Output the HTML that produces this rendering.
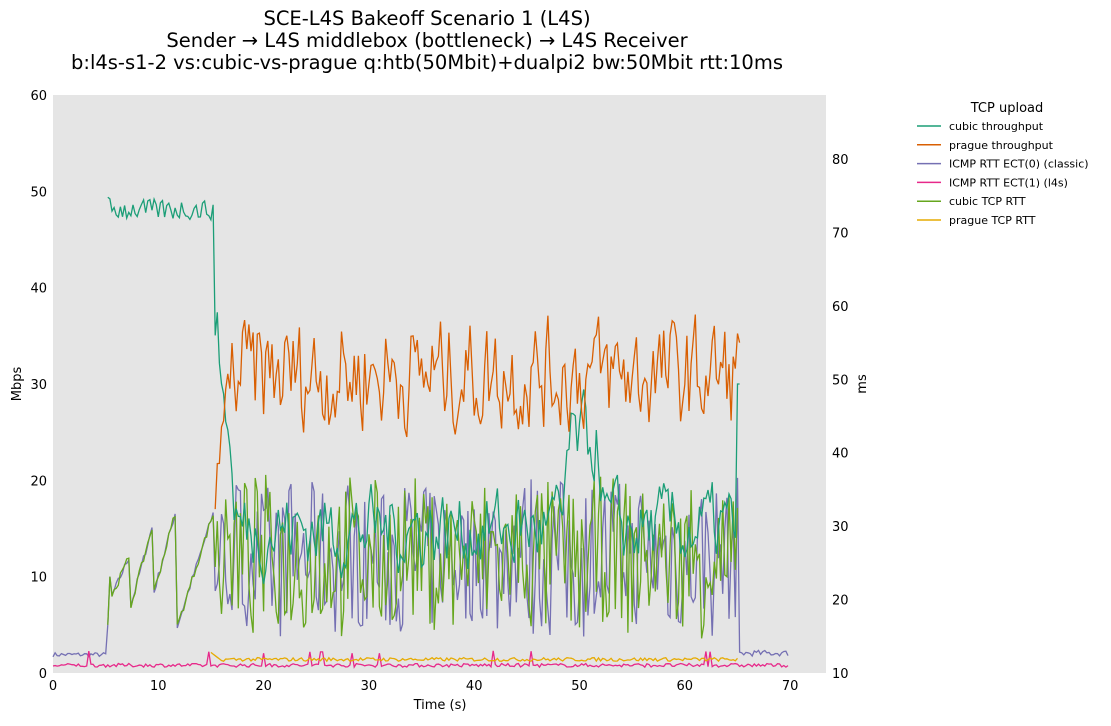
<!DOCTYPE html>
<html><head><meta charset="utf-8"><style>
body{margin:0;background:#fff;font-family:"Liberation Sans","DejaVu Sans",sans-serif;}
svg text{font-family:"DejaVu Sans","Liberation Sans",sans-serif;}
</style></head><body>
<svg id="s" width="1111" height="721" xmlns="http://www.w3.org/2000/svg">
<rect x="53" y="95" width="773" height="578" fill="#e5e5e5"/>
<g font-size="19.5" text-anchor="middle" fill="#000">
<text x="427" y="25">SCE-L4S Bakeoff Scenario 1 (L4S)</text>
<text x="427" y="47">Sender → L4S middlebox (bottleneck) → L4S Receiver</text>
<text x="427" y="69">b:l4s-s1-2 vs:cubic-vs-prague q:htb(50Mbit)+dualpi2 bw:50Mbit rtt:10ms</text>
</g>
<g id="ax" font-size="13" fill="#000"></g>
<g id="series" fill="none" stroke-width="1.3"></g>
<g font-size="13"><text x="1007" y="112" text-anchor="middle">TCP upload</text></g>
<g id="leg" font-size="11"></g>
</svg>
<script>
var ax=document.getElementById('ax'),h='';
for(var i=0;i<=6;i++){var y=673-i*96.33;h+='<text x="47" y="'+(y+5)+'" text-anchor="end">'+(i*10)+'</text>';}
for(var i=0;i<=7;i++){var x=53+i*105.3;h+='<text x="'+x+'" y="690" text-anchor="middle">'+(i*10)+'</text>';}
for(var i=1;i<=8;i++){var y=673-(i*10-10)*7.343;h+='<text x="832" y="'+(y+5)+'">'+(i*10)+'</text>';}
h+='<text x="440" y="709" text-anchor="middle">Time (s)</text>';
h+='<text transform="translate(21,384) rotate(-90)" text-anchor="middle">Mbps</text>';
h+='<text transform="translate(866,384) rotate(-90)" text-anchor="middle">ms</text>';
ax.innerHTML=h;
var seed=7;function r(){seed=(seed*16807)%2147483647;return seed/2147483647;}
function X(t){return 53+t*10.53}function M(v){return 673-v*9.633}function S(ms){return 673-(ms-10)*7.343}
function line(pts,c){return '<polyline stroke="'+c+'" points="'+pts.map(p=>p[0].toFixed(1)+','+p[1].toFixed(1)).join(' ')+'"/>';}
var segs=[[5.6,7.4,8,12.5],[7.4,9.5,7,15.5],[9.5,11.7,8,17],[11.7,15.2,4.5,16.5]];
function saw(t){if(t<5.6)return 5+(t-5.2)*25;for(var i=0;i<segs.length;i++){var s=segs[i];if(t>=s[0]&&t<s[1])return s[2]+(s[3]-s[2])*(t-s[0])/(s[1]-s[0])+(r()-0.5)*0.8;}return 15;}
function noisy(){var u=r();return 12+(u-0.5)*15+(r()-0.5)*3;}
var out='';
// ICMP ECT0 (in Mbps-equivalent pixel for middle)
var p=[];
for(var t=0;t<=70;t+=0.2){var y;
 if(t<5.2)y=S(12.2+r()*0.6);
 else if(t<15.2)y=M(saw(t));
 else if(t<65.2)y=M(noisy());
 else y=S(12.3+r()*0.8);
 p.push([X(t),y]);}
out+=line(p,'#7570b3');
// ECT1
p=[];for(var t=0;t<=70;t+=0.2){var v=10.8+r()*0.5;if(r()<0.02)v+=1.8;p.push([X(t),S(v)]);}
out+=line(p,'#e7298a');
// cubic tcp rtt
p=[];for(var t=5.2;t<=65.2;t+=0.2){var v=(t<15.2)?saw(t):noisy();p.push([X(t),M(v)]);}
out+=line(p,'#66a61e');
// prague rtt
p=[];for(var t=15;t<=65.2;t+=0.2){var v=11.6+r()*0.5;if(t<16)v=12.8-(t-15)*1.1;p.push([X(t),S(v)]);}
out+=line(p,'#e6ab02');
// cubic tput
p=[];var c=15;for(var t=5.2;t<=65.4;t+=0.2){var v;
 if(t<5.6)v=53-r()*4;else if(t<15.2)v=47+r()*2.2;
 else if(t<15.6)v=38-r()*3;
 else if(t<17)v=33-(t-15.6)*9+r()*2;
 else {var base=(t>48.5&&t<52)?24:15;c=c*0.5+(base+(r()-0.5)*14)*0.5;v=c;}
 if(t>65)v=30;
 p.push([X(t),M(v)]);}
out+=line(p,'#1b9e77');
// prague tput
p=[];c=31;for(var t=15.4;t<=65.3;t+=0.2){var v;
 if(t<16.6)v=17+(t-15.4)*10+r()*3;else{c=c*0.35+(31+(r()-0.5)*16)*0.65;v=c;}
 p.push([X(t),M(v)]);}
out+=line(p,'#d95f02');
document.getElementById('series').innerHTML=out;
var L=[['cubic throughput','#1b9e77'],['prague throughput','#d95f02'],['ICMP RTT ECT(0) (classic)','#7570b3'],['ICMP RTT ECT(1) (l4s)','#e7298a'],['cubic TCP RTT','#66a61e'],['prague TCP RTT','#e6ab02']];
h='';L.forEach(function(l,i){var y=126+i*18.8;h+='<line x1="917" x2="941" y1="'+y+'" y2="'+y+'" stroke="'+l[1]+'" stroke-width="1.5"/><text x="949" y="'+(y+4)+'">'+l[0]+'</text>';});
document.getElementById('leg').innerHTML=h;
</script>
</body></html>
